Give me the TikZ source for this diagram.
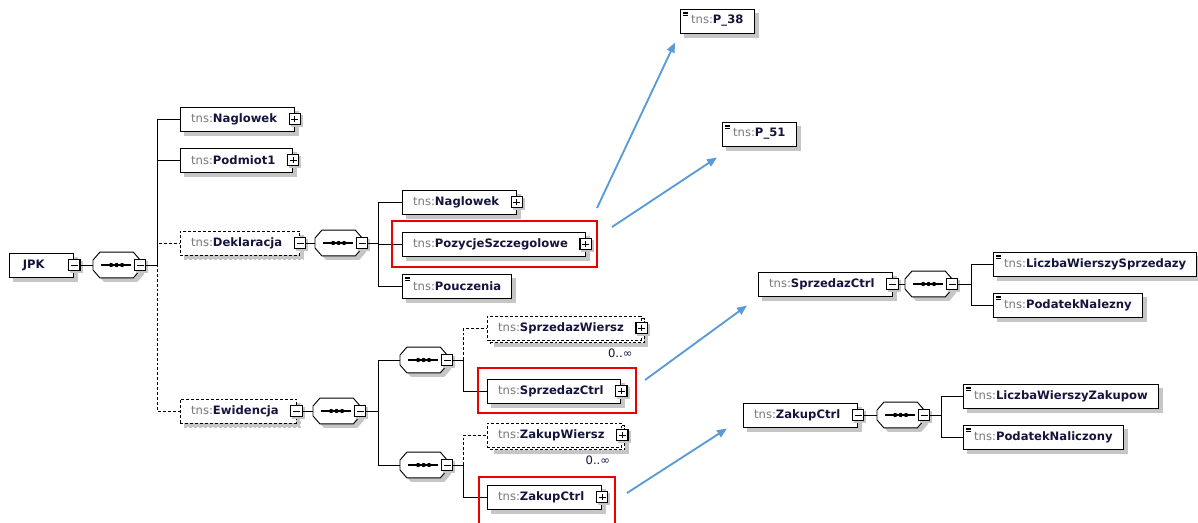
\documentclass[tikz,border=0pt]{standalone}
\usepackage{fontspec}
\setmainfont{DejaVu Sans}
\usetikzlibrary{shadows,arrows.meta}
\definecolor{tnsgray}{RGB}{120,120,120}
\definecolor{namecol}{RGB}{20,20,60}
\definecolor{shadowgray}{RGB}{198,198,198}
\definecolor{linkblue}{RGB}{91,155,213}
\definecolor{markred}{RGB}{235,0,0}
\newcommand{\tns}[1]{{\color{tnsgray}tns:}{\bfseries\color{namecol}#1}}
% octagon of a sequence compositor around node #1
\newcommand{\octagon}[1]{([xshift=5.2pt]#1.north west) -- ([xshift=-5.2pt]#1.north east)
  -- ([yshift=-6pt]#1.north east) -- ([yshift=6pt]#1.south east)
  -- ([xshift=-5.2pt]#1.south east) -- ([xshift=5.2pt]#1.south west)
  -- ([yshift=6pt]#1.south west) -- ([yshift=-6pt]#1.north west) -- cycle}
% sequence compositor: name, position
\newcommand{\seqnode}[2]{%
  \node[seqbox] (#1) at (#2) {};
  \fill[shadowgray, transform canvas={shift={(3pt,-3pt)}}] \octagon{#1};
  \draw[line width=0.7pt, fill=white] \octagon{#1};
  \draw[line width=0.8pt] ([xshift=-11.5pt]#1.center) -- ([xshift=11pt]#1.center);
  \foreach \d in {-4.1,0,4.1}
    \fill ([xshift=\d pt]#1.center) circle (1.6pt);
  \node[expm] (#1x) at (#1.east) {};}
\tikzset{
  ebox/.style={draw, fill=white, line width=0.7pt, minimum height=18pt,
    inner xsep=8pt, inner ysep=0pt, anchor=west,
    font=\fontsize{8.7pt}{10pt}\selectfont},
  shade3/.style={drop shadow={shadow xshift=3pt, shadow yshift=-3pt,
    fill=shadowgray, draw=shadowgray, opacity=1}},
  elem/.style={ebox, shade3},
  opt/.style={elem, dash pattern=on 2.2pt off 1.5pt},
  multi/.style={ebox, dash pattern=on 2.2pt off 1.5pt,
    drop shadow={shadow xshift=5pt, shadow yshift=-5pt,
      fill=shadowgray, draw=shadowgray, opacity=1},
    copy shadow={shadow xshift=2.2pt, shadow yshift=-2.2pt,
      dash pattern=on 2.2pt off 1.5pt}},
  simple/.style={elem, path picture={
    \foreach \k in {0,1,2}
      \draw[line width=0.45pt] ([shift={(2pt,-2.2pt-\k*1.3pt)}]path picture bounding box.north west) -- ++(4pt,0);}},
  expbox/.style={draw, fill=white, line width=0.9pt, minimum size=8.5pt,
    inner sep=0pt, drop shadow={shadow xshift=1.5pt, shadow yshift=-1.5pt,
      fill=shadowgray, draw=shadowgray, opacity=1}},
  expm/.style={expbox, path picture={
    \draw[line width=0.7pt] ([xshift=-2.6pt]path picture bounding box.center) -- ([xshift=2.6pt]path picture bounding box.center);}},
  expp/.style={expbox, path picture={
    \draw[line width=0.7pt] ([xshift=-2.6pt]path picture bounding box.center) -- ([xshift=2.6pt]path picture bounding box.center);
    \draw[line width=0.7pt] ([yshift=-2.6pt]path picture bounding box.center) -- ([yshift=2.6pt]path picture bounding box.center);}},
  seqbox/.style={minimum width=35pt, minimum height=19pt, inner sep=0pt, anchor=west},
  conn/.style={line width=0.7pt},
  optconn/.style={conn, dash pattern=on 2.2pt off 1.5pt},
  occ/.style={font=\fontsize{8.7pt}{10pt}\selectfont, text=namecol, inner sep=0pt},
  redbox/.style={draw=markred, line width=1.4pt},
  link/.style={draw=linkblue, line width=1.4pt, -{Triangle[length=7.5pt,width=6pt]}}
}
\begin{document}
\begin{tikzpicture}[x=0.75pt,y=-0.75pt,line cap=butt]
  \useasboundingbox (0,0) rectangle (1198,522);
  % root
  \node[elem] (jpk) at (9,265) {\hspace*{2pt}{\bfseries\color{namecol}JPK}\hspace*{14pt}};
  \node[expm] (jpkx) at (jpk.east) {};
  \seqnode{seq0}{93,265}
  % first level
  \node[elem] (nag1) at (180,119) {\tns{Naglowek}\hspace*{5pt}};
  \node[expp] (nag1x) at (nag1.east) {};
  \node[elem] (pod) at (180,160) {\tns{Podmiot1}\hspace*{5pt}};
  \node[expp] (podx) at (pod.east) {};
  \node[opt] (dek) at (180,243) {\tns{Deklaracja}\hspace*{5pt}};
  \node[expm] (dekx) at (dek.east) {};
  \node[opt] (ewi) at (180,411) {\tns{Ewidencja}\hspace*{5pt}};
  \node[expm] (ewix) at (ewi.east) {};
  % Deklaracja
  \seqnode{seq1}{315,243}
  \node[elem] (nag2) at (402,202) {\tns{Naglowek}\hspace*{5pt}};
  \node[expp] (nag2x) at (nag2.east) {};
  \node[elem] (poz) at (402,244) {\tns{PozycjeSzczegolowe}\hspace*{5pt}};
  \node[expp] (pozx) at (poz.east) {};
  \node[simple] (pou) at (402,286) {\tns{Pouczenia}};
  % Ewidencja
  \seqnode{seq2}{313,411}
  \seqnode{seq3}{400,360}
  \seqnode{seq4}{400,465}
  \node[multi] (sw) at (487,328) {\tns{SprzedazWiersz}\hspace*{5pt}};
  \node[expp] (swx) at (sw.east) {};
  \node[occ, anchor=north east] (swocc) at ([shift={(-9,8)}]sw.south east) {0..∞};
  \node[elem] (sc) at (487,391) {\tns{SprzedazCtrl}\hspace*{5pt}};
  \node[expp] (scx) at (sc.east) {};
  \node[multi] (zw) at (487,435) {\tns{ZakupWiersz}\hspace*{5pt}};
  \node[expp] (zwx) at (zw.east) {};
  \node[occ, anchor=north east] (zwocc) at ([shift={(-12,8)}]zw.south east) {0..∞};
  \node[elem] (zc) at (487,497) {\tns{ZakupCtrl}\hspace*{5pt}};
  \node[expp] (zcx) at (zc.east) {};
  % expanded parts
  \node[simple] (p38) at (680,21) {\tns{P\_38}};
  \node[simple] (p51) at (722,134) {\tns{P\_51}};
  \node[elem] (sc2) at (758,284) {\tns{SprzedazCtrl}\hspace*{5pt}};
  \node[expm] (sc2x) at (sc2.east) {};
  \seqnode{seq5}{905,284}
  \node[simple] (lws) at (993,264) {\tns{LiczbaWierszySprzedazy}};
  \node[simple] (pn) at (993,305) {\tns{PodatekNalezny}};
  \node[elem] (zc2) at (743,415) {\tns{ZakupCtrl}\hspace*{5pt}};
  \node[expm] (zc2x) at (zc2.east) {};
  \seqnode{seq6}{877,415}
  \node[simple] (lwz) at (963,396) {\tns{LiczbaWierszyZakupow}};
  \node[simple] (pnl) at (963,437) {\tns{PodatekNaliczony}};
  % connectors
  \draw[conn] (jpkx.east) -- (seq0.west);
  \draw[optconn] (seq0x.east) -- ++(11,0) |- (dek.west);
  \draw[optconn] (seq0x.east) -- ++(11,0) |- (ewi.west);
  \draw[conn] (seq0x.east) -- ++(11,0) |- (nag1.west);
  \draw[conn] (seq0x.east) -- ++(11,0) |- (pod.west);
  \draw[conn] (dekx.east) -- (seq1.west);
  \draw[conn] (seq1x.east) -- ++(10,0) |- (nag2.west);
  \draw[conn] (seq1x.east) -- ++(10,0) |- (poz.west);
  \draw[conn] (seq1x.east) -- ++(10,0) |- (pou.west);
  \draw[conn] (ewix.east) -- (seq2.west);
  \draw[conn] (seq2x.east) -- ++(12,0) |- (seq3.west);
  \draw[conn] (seq2x.east) -- ++(12,0) |- (seq4.west);
  \draw[optconn] (seq3x.east) -- ++(10,0) |- (sw.west);
  \draw[conn] (seq3x.east) -- ++(10,0) |- (sc.west);
  \draw[optconn] (seq4x.east) -- ++(10,0) |- (zw.west);
  \draw[conn] (seq4x.east) -- ++(10,0) |- (zc.west);
  \draw[conn] (sc2x.east) -- (seq5.west);
  \draw[conn] (seq5x.east) -- ++(13,0) |- (lws.west);
  \draw[conn] (seq5x.east) -- ++(13,0) |- (pn.west);
  \draw[conn] (zc2x.east) -- (seq6.west);
  \draw[conn] (seq6x.east) -- ++(11,0) |- (lwz.west);
  \draw[conn] (seq6x.east) -- ++(11,0) |- (pnl.west);
  % marks
  \draw[redbox] (392,221) rectangle (597,267);
  \draw[redbox] (478,368) rectangle (636,413);
  \draw[redbox] (479,477) rectangle (615,540);
  \coordinate (l1) at (597,208);
  \coordinate (l2) at (612,227);
  \coordinate (l3) at (645,380);
  \coordinate (l4) at (627,493);
  \draw[link] (l1) -- ([shift={(-5,9)}]p38.south west);
  \draw[link] (l2) -- ([shift={(-5,11)}]p51.south west);
  \draw[link] (l3) -- ([shift={(-11,9)}]sc2.south west);
  \draw[link] (l4) -- ([shift={(-16,1)}]zc2.south west);
\end{tikzpicture}
\end{document}
